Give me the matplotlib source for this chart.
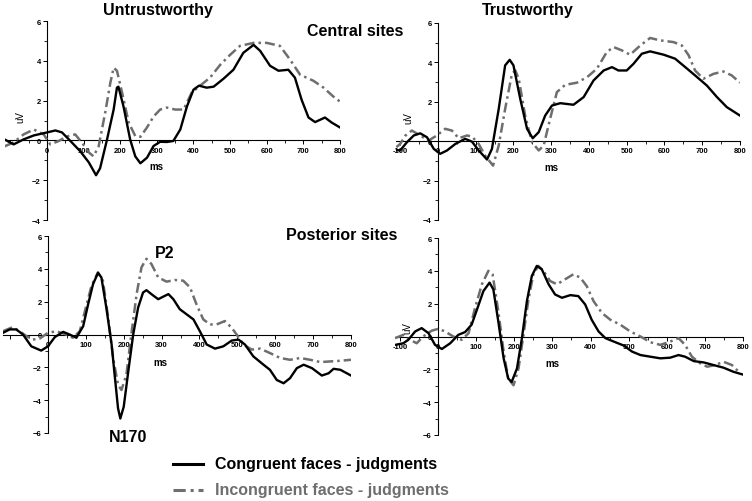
import matplotlib
matplotlib.use("Agg")
import matplotlib.pyplot as plt
from matplotlib.lines import Line2D
from matplotlib.ticker import MultipleLocator

plt.rcParams['font.family'] = ['Liberation Sans', 'DejaVu Sans']

# ---- data (ms, uV) ----
# Untrustworthy, central sites
ut_cen_cong_ms = [-116, -91, -64, -36, 0, 23, 41, 64, 91, 114, 134, 145, 164, 182, 191, 195, 209, 227, 241, 255,
                  273, 291, 309, 327, 345, 364, 382, 400, 415, 436, 455, 482, 509, 536, 564, 582, 609, 632, 659,
                  677, 695, 714, 732, 759, 777, 800]
ut_cen_cong_uv = [0.05, -0.2, 0.05, 0.25, 0.4, 0.5, 0.4, -0.03, -0.55, -1.1, -1.75, -1.4, 0.05, 1.55, 2.65, 2.7,
                  1.7, 0.05, -0.8, -1.15, -0.87, -0.28, -0.07, -0.08, -0.03, 0.55, 1.7, 2.55, 2.75, 2.65, 2.7,
                  3.1, 3.55, 4.4, 4.8, 4.5, 3.75, 3.5, 3.55, 3.15, 2.05, 1.15, 0.92, 1.15, 0.9, 0.65]
ut_cen_inc_ms = [-116, -91, -64, -36, -9, 9, 32, 55, 77, 95, 114, 127, 141, 159, 173, 182, 191, 205, 223, 241,
                 255, 273, 291, 309, 327, 350, 373, 395, 418, 445, 473, 500, 527, 564, 600, 636, 664, 691, 727,
                 755, 782, 800]
ut_cen_inc_uv = [-0.3, -0.1, 0.3, 0.55, 0.3, -0.2, -0.03, 0.2, 0.3, -0.1, -0.6, -0.8, -0.3, 1.4, 2.9, 3.65, 3.5,
                 2.4, 0.9, 0.22, 0.18, 0.65, 1.2, 1.55, 1.65, 1.55, 1.55, 2.4, 2.75, 3.15, 3.8, 4.3, 4.75, 4.9,
                 4.9, 4.75, 4.05, 3.3, 3.0, 2.65, 2.2, 1.95]

# Trustworthy, central sites
tr_cen_cong_ms = [-110, -100, -82, -64, -47, -29, -11, 6, 24, 46, 72, 90, 108, 130, 143, 161, 178, 190, 200, 218,
                  236, 251, 267, 284, 302, 324, 359, 386, 412, 439, 461, 478, 500, 518, 540, 562, 598, 628, 655,
                  681, 712, 739, 765, 800]
tr_cen_cong_uv = [-0.45, -0.47, -0.05, 0.29, 0.4, 0.2, -0.39, -0.64, -0.47, -0.14, 0.12, -0.02, -0.47, -0.93,
                  -0.39, 1.64, 3.85, 4.13, 3.85, 2.15, 0.63, 0.15, 0.46, 1.3, 1.81, 1.93, 1.85, 2.24, 3.08, 3.59,
                  3.76, 3.59, 3.59, 3.93, 4.44, 4.56, 4.39, 4.19, 3.76, 3.34, 2.83, 2.24, 1.73, 1.3]
tr_cen_inc_ms = [-110, -100, -86, -69, -47, -25, -3, 19, 37, 55, 77, 90, 108, 125, 146, 161, 178, 196, 205, 214,
                 231, 249, 267, 280, 297, 315, 337, 368, 395, 421, 447, 465, 487, 509, 536, 562, 588, 624, 646,
                 664, 681, 703, 730, 756, 778, 800]
tr_cen_inc_uv = [-0.3, -0.14, 0.29, 0.54, 0.29, 0.03, 0.29, 0.63, 0.54, 0.15, 0.29, 0.24, -0.14, -0.73, -1.24,
                 -0.22, 1.64, 3.42, 3.59, 3.17, 1.3, -0.05, -0.47, -0.22, 1.13, 2.49, 2.86, 2.97, 3.25, 3.68,
                 4.52, 4.78, 4.61, 4.39, 4.86, 5.24, 5.12, 5.03, 4.86, 4.36, 3.59, 3.17, 3.42, 3.54, 3.34, 2.97]

# Untrustworthy, posterior sites
ut_pos_cong_ms = [-119, -101, -84, -66, -44, -18, 0, 18, 40, 57, 75, 93, 106, 119, 132, 141, 154, 168, 176, 185,
                  191, 200, 212, 225, 238, 251, 260, 273, 291, 309, 318, 331, 348, 366, 384, 401, 419, 441, 463,
                  485, 503, 520, 542, 569, 586, 604, 622, 639, 657, 675, 697, 723, 741, 754, 772, 800]
ut_pos_cong_uv = [0.1, 0.31, 0.31, 0.0, -0.72, -0.98, -0.72, -0.16, 0.16, 0.0, -0.2, 0.51, 1.84, 3.07, 3.75,
                  3.48, 1.64, -0.61, -2.46, -4.5, -5.12, -4.4, -2.25, 0.0, 1.64, 2.56, 2.7, 2.46, 2.15, 2.36,
                  2.46, 2.15, 1.54, 1.23, 0.92, 0.2, -0.61, -0.86, -0.72, -0.37, -0.31, -0.61, -1.33, -1.84,
                  -2.15, -2.77, -2.97, -2.66, -2.05, -1.84, -2.05, -2.5, -2.36, -2.09, -2.15, -2.5]
ut_pos_inc_ms = [-119, -93, -75, -57, -40, -22, 0, 22, 48, 66, 84, 100, 115, 132, 145, 159, 172, 185, 194, 207,
                 220, 234, 247, 260, 273, 291, 313, 335, 357, 375, 392, 410, 428, 445, 467, 485, 498, 516, 538,
                 560, 586, 613, 639, 666, 692, 719, 745, 772, 800]
ut_pos_inc_uv = [0.2, 0.45, 0.2, -0.1, -0.31, -0.25, 0.1, 0.2, 0.0, -0.2, 0.2, 1.64, 2.97, 3.79, 3.28, 1.02,
                 -1.43, -3.07, -3.38, -2.46, 0.0, 2.46, 4.1, 4.61, 4.3, 3.48, 3.22, 3.32, 3.28, 2.87, 1.84, 0.92,
                 0.61, 0.61, 0.82, 0.41, 0.0, -0.61, -0.92, -0.86, -1.13, -1.43, -1.54, -1.43, -1.54, -1.68,
                 -1.64, -1.6, -1.54]

# Trustworthy, posterior sites
tr_pos_cong_ms = [-110, -91, -78, -60, -43, -25, -8, 10, 32, 53, 71, 88, 102, 119, 135, 145, 158, 172, 184, 193,
                  207, 220, 233, 246, 259, 272, 290, 307, 325, 347, 368, 386, 403, 421, 439, 461, 487, 509, 531,
                  557, 583, 609, 631, 648, 671, 697, 723, 749, 775, 800]
tr_pos_cong_uv = [-0.5, -0.41, -0.2, 0.31, 0.51, 0.2, -0.51, -0.76, -0.41, 0.1, 0.27, 0.72, 1.64, 2.77, 3.28,
                  2.87, 0.92, -1.33, -2.56, -2.77, -1.95, -0.1, 2.15, 3.69, 4.3, 4.1, 3.18, 2.56, 2.36, 2.52,
                  2.46, 1.95, 1.02, 0.31, -0.1, -0.31, -0.55, -0.92, -1.13, -1.23, -1.33, -1.29, -1.13, -1.23,
                  -1.5, -1.58, -1.74, -1.9, -2.15, -2.32]
tr_pos_inc_ms = [-113, -91, -74, -56, -39, -17, 1, 18, 40, 62, 80, 97, 115, 132, 143, 158, 172, 184, 198, 211,
                 224, 237, 250, 263, 276, 294, 312, 333, 355, 373, 390, 408, 430, 452, 478, 504, 531, 557, 583,
                 609, 631, 648, 666, 688, 706, 727, 749, 771, 793]
tr_pos_inc_uv = [-0.1, 0.1, -0.2, -0.41, 0.0, 0.35, 0.47, 0.31, 0.0, -0.2, 0.2, 1.74, 3.18, 4.0, 3.79, 1.54,
                 -0.92, -2.56, -2.97, -1.95, 0.1, 2.25, 3.79, 4.3, 4.0, 3.38, 3.18, 3.48, 3.79, 3.59, 3.07, 2.15,
                 1.43, 1.02, 0.72, 0.31, 0.0, -0.35, -0.51, -0.31, -0.1, -0.51, -1.23, -1.64, -1.84, -1.74,
                 -1.54, -1.74, -2.25]

x_ticks = [-100, 0, 100, 200, 300, 400, 500, 600, 700, 800]
legend_labels = ['Congruent faces - judgments', 'Incongruent faces - judgments']

W, H = 752, 502
BLACK = '#000000'
GRAY = '#6e6e6e'
DASHDOT = (0, (4, 1.6, 1, 1.6))


def rect(l, r, t, b):
    return [l / W, 1 - b / H, (r - l) / W, (b - t) / H]


def setup(ax, xlim, ylim, ms_pos, uv_pos=None, show_first=True):
    ax.set_xlim(*xlim)
    ax.set_ylim(*ylim)
    ax.patch.set_alpha(0)
    for s in ['top', 'right']:
        ax.spines[s].set_visible(False)
    ax.spines['left'].set_position(('data', 0))
    ax.spines['bottom'].set_position(('data', 0))
    for s in ['left', 'bottom']:
        ax.spines[s].set_linewidth(0.8)
        ax.spines[s].set_zorder(1)
    ax.set_xticks(x_ticks)
    labels = [str(v) for v in x_ticks]
    if not show_first:
        labels[0] = ''
    ax.set_xticklabels(labels)
    ax.xaxis.set_minor_locator(MultipleLocator(50))
    ax.yaxis.set_major_locator(MultipleLocator(2))
    ax.yaxis.set_minor_locator(MultipleLocator(1))
    ax.tick_params(which='major', direction='out', length=3, width=0.7, labelsize=5.5, pad=1.5)
    ax.tick_params(which='minor', direction='out', length=2, width=0.6)
    for lab in ax.get_xticklabels() + ax.get_yticklabels():
        lab.set_fontweight('bold')
    ax.text(ms_pos[0], ms_pos[1], 'ms', fontsize=7, fontweight='bold', ha='center', va='center')
    if uv_pos is not None:
        ax.text(uv_pos[0], uv_pos[1], 'uV', fontsize=7, rotation=90, ha='center', va='center')


def draw(ax, cong_ms, cong_uv, inc_ms, inc_uv):
    ax.plot(inc_ms, inc_uv, color=GRAY, lw=1.8, linestyle=DASHDOT, zorder=2,
            solid_joinstyle='round', dash_joinstyle='round')
    ax.plot(cong_ms, cong_uv, color=BLACK, lw=1.7, zorder=3, solid_joinstyle='round')


fig = plt.figure(figsize=(W / 100, H / 100), dpi=100)

ax_tl = fig.add_axes(rect(4.5, 340, 22, 221))
setup(ax_tl, (-116, 800), (-4, 6), (300, -1.3), (-74, 1.2), show_first=False)
draw(ax_tl, ut_cen_cong_ms, ut_cen_cong_uv, ut_cen_inc_ms, ut_cen_inc_uv)

ax_tr = fig.add_axes(rect(396.4, 740, 24, 221))
setup(ax_tr, (-110, 800), (-4, 6), (300, -1.3), (-79, 1.2))
draw(ax_tr, tr_cen_cong_ms, tr_cen_cong_uv, tr_cen_inc_ms, tr_cen_inc_uv)

ax_bl = fig.add_axes(rect(2.9, 351, 237, 434))
setup(ax_bl, (-119, 800), (-6, 6), (296, -1.65), show_first=False)
draw(ax_bl, ut_pos_cong_ms, ut_pos_cong_uv, ut_pos_inc_ms, ut_pos_inc_uv)
ax_bl.text(309, 5.0, 'P2', fontsize=11.5, fontweight='bold', ha='center', va='center', clip_on=False)
ax_bl.text(211, -6.2, 'N170', fontsize=11.5, fontweight='bold', ha='center', va='center', clip_on=False)

ax_br = fig.add_axes(rect(395, 743, 239, 436))
setup(ax_br, (-113, 800), (-6, 6), (300, -1.6), (-81, 0.55))
draw(ax_br, tr_pos_cong_ms, tr_pos_cong_uv, tr_pos_inc_ms, tr_pos_inc_uv)

# headers
fig.text(158 / W, 1 - 10 / H, 'Untrustworthy', fontsize=11.5, fontweight='bold', ha='center', va='center')
fig.text(528 / W, 1 - 10 / H, 'Trustworthy', fontsize=11.5, fontweight='bold', ha='center', va='center')
fig.text(355 / W, 1 - 32 / H, 'Central sites', fontsize=11.5, fontweight='bold', ha='center', va='center')
fig.text(342 / W, 1 - 235 / H, 'Posterior sites', fontsize=11.5, fontweight='bold', ha='center', va='center')

# legend
fig.add_artist(Line2D([173 / W, 203 / W], [1 - 465 / H, 1 - 465 / H], color=BLACK, lw=2.2))
fig.add_artist(Line2D([173 / W, 203 / W], [1 - 491 / H, 1 - 491 / H], color=GRAY, lw=2.2,
                      linestyle=DASHDOT))
fig.text(215 / W, 1 - 465 / H, legend_labels[0], fontsize=11.5, fontweight='bold', color=BLACK,
         ha='left', va='center')
fig.text(215 / W, 1 - 491 / H, legend_labels[1], fontsize=11.5, fontweight='bold', color=GRAY,
         ha='left', va='center')

fig.savefig('out.png', dpi=100)
